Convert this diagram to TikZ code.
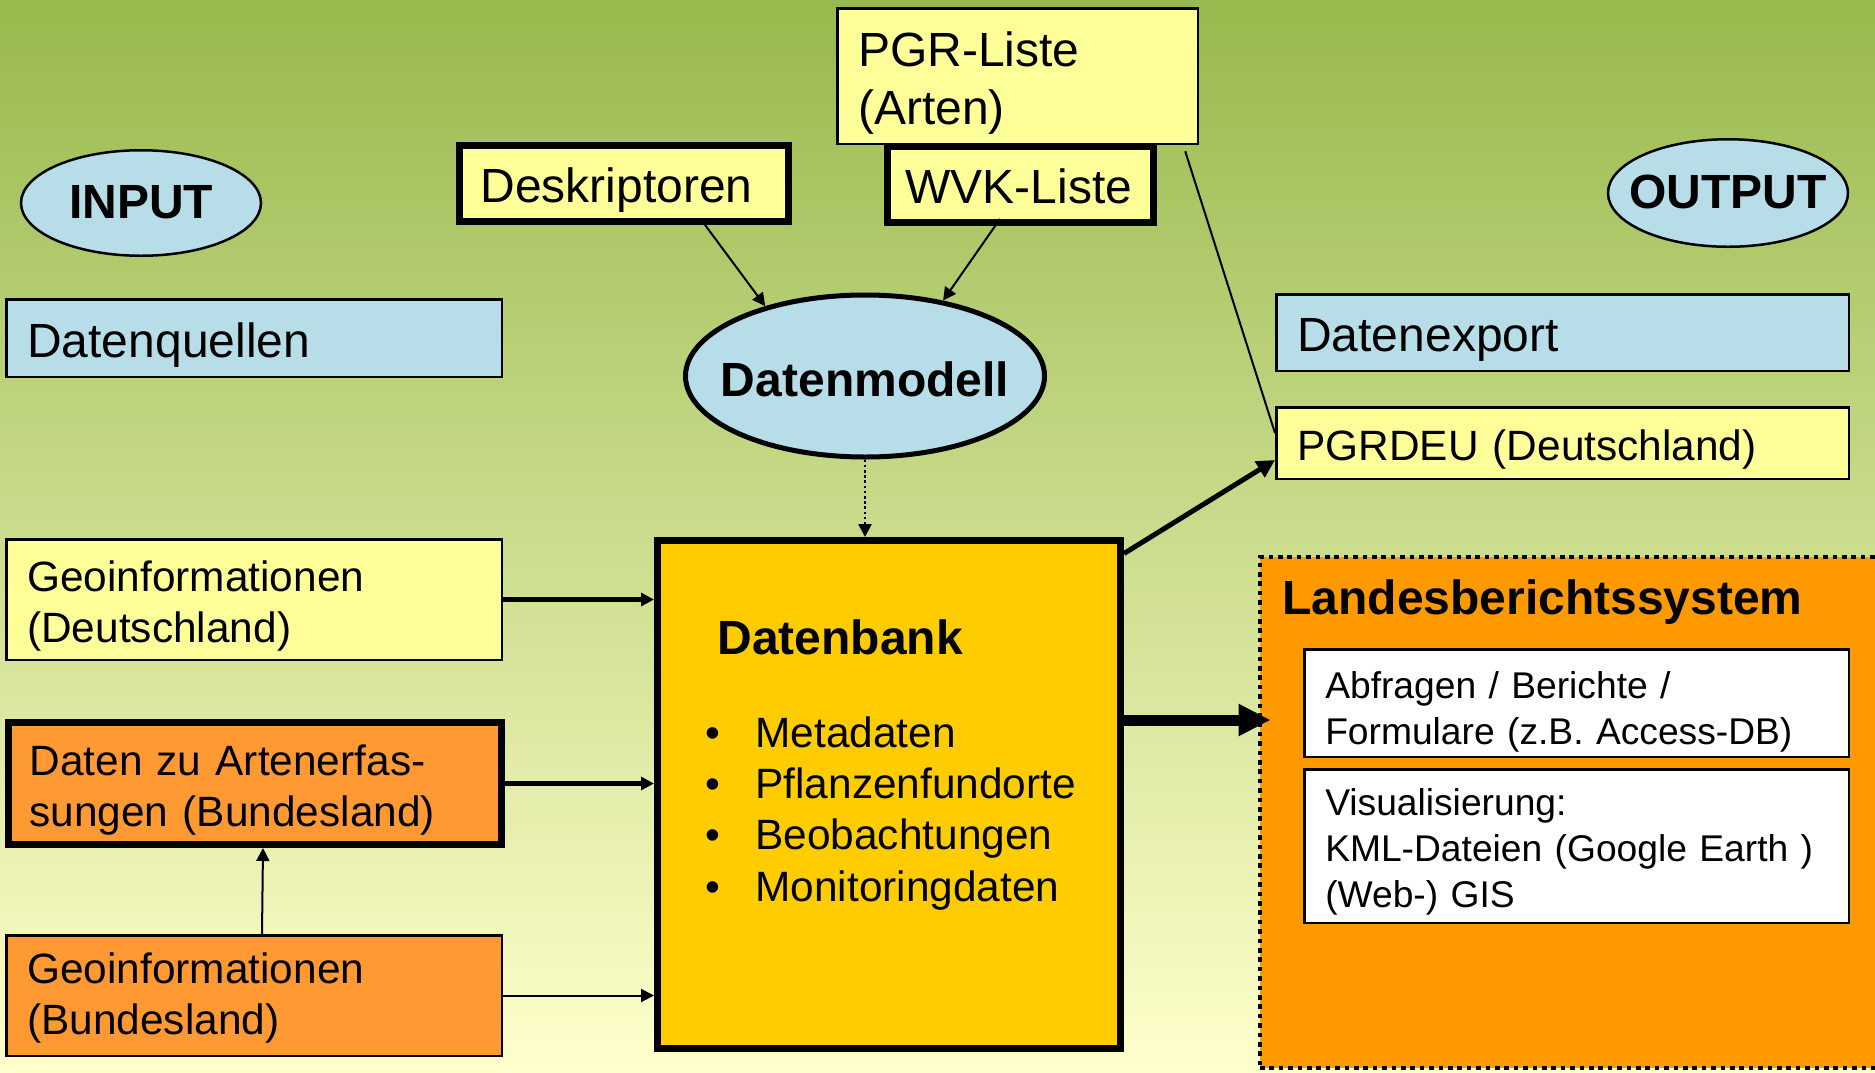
\documentclass[tikz,border=0pt]{standalone}
\usepackage{fontspec}
\setmainfont{Liberation Sans}
\usetikzlibrary{arrows.meta,shapes.geometric}

\definecolor{bgoben}{RGB}{151,185,77}
\definecolor{bgunten}{RGB}{255,255,204}
\definecolor{hellblau}{RGB}{183,222,232}
\definecolor{hellgelb}{RGB}{255,255,153}
\definecolor{orangekasten}{RGB}{255,153,51}
\definecolor{dbgelb}{RGB}{255,204,0}
\definecolor{lbsorange}{RGB}{255,153,0}

\newcommand{\fgross}{\fontsize{24}{28.7}\selectfont}
\newcommand{\fmittel}{\fontsize{21.2}{25.7}\selectfont}
\newcommand{\fklein}{\fontsize{18.6}{23}\selectfont}

\begin{document}
\begin{tikzpicture}[x=0.5pt, y=-0.5pt,
    kasten/.style={draw, rectangle, line width=1.25pt, align=left, inner xsep=10.5pt, inner ysep=0pt, font=\fmittel, text height=19.4pt, text depth=2pt},
    gross/.style={font=\fgross, text height=21.4pt},
    klein/.style={font=\fklein, text height=17.3pt},
    dick/.style={line width=3.5pt},
    oval/.style={draw, ellipse, line width=1.25pt, fill=hellblau, inner sep=0pt, font=\fgross\bfseries, text height=17.2pt, text depth=2pt},
    pfeil/.style={-{Triangle[length=6.5pt,width=6.5pt]}, line width=1pt}]

    % 1. Hintergrund
    \useasboundingbox (0,0) rectangle (1875,1072);
    \shade[top color=bgoben, bottom color=bgunten] (0,0) rectangle (1875,1072);

    % 2. INPUT / OUTPUT
    \node[oval, minimum width=120pt, minimum height=52.75pt] (input) at (141,203) {\makebox[0pt]{INPUT}};
    \node[oval, minimum width=120pt, minimum height=53.75pt] (output) at (1728,193) {\makebox[0pt]{OUTPUT}};
    \node[kasten, gross, fill=hellblau, text width=226.75pt, minimum height=38.75pt] (quellen) at (254,338) {Datenquellen};
    \node[kasten, gross, fill=hellblau, text width=265.25pt, minimum height=38.25pt] (export) at (1562.5,332.5) {Datenexport};
    \node[kasten, fill=hellgelb, text width=265.25pt, minimum height=35.75pt] (pgrdeu) at (1562.5,443) {PGRDEU (Deutschland)};

    % 3. Listen oben
    \node[kasten, gross, fill=hellgelb, text width=159.25pt, minimum height=67.75pt, text depth=30.7pt] (pgr) at (1017.5,76) {PGR-Liste\\(Arten)};
    \node[kasten, gross, dick, fill=hellgelb, text width=143.5pt, minimum height=38pt] (deskr) at (624,183.5) {Deskriptoren};
    \node[kasten, gross, dick, fill=hellgelb, inner xsep=9pt, text width=115pt, minimum height=38pt] (wvk) at (1020.5,184) {WVK-Liste};
    \node[oval, line width=2.5pt, minimum width=179.5pt, minimum height=81pt, text height=22pt] (modell) at (865,376) {\makebox[0pt]{Datenmodell}};

    % 4. Eingangsdaten
    \node[kasten, fill=hellgelb, text width=226.75pt, minimum height=60.25pt, text depth=27.7pt] (geod) at (254,599.5) {Geoinformationen\\(Deutschland)};
    \node[kasten, dick, fill=orangekasten, text width=225.5pt, minimum height=61pt, text depth=27.7pt] (arten) at (255,783.5) {Daten zu Artenerfas-\\sungen (Bundesland)};
    \node[kasten, fill=orangekasten, text width=226.75pt, minimum height=60.25pt, text height=15.2pt, text depth=27.7pt] (geob) at (254,995.5) {Geoinformationen\\(Bundesland)};

    % 5. Datenbank
    \node[kasten, dick, fill=dbgelb, minimum width=231.5pt, minimum height=254pt] (bank) at (889,794.5) {};
    \node[font=\fgross\bfseries, anchor=base west, inner sep=0pt] (banktitel) at (717,654) {Datenbank};
    \foreach \t [count=\i from 0] in {Metadaten,Pflanzenfundorte,Beobachtungen,Monitoringdaten}
        \node[font=\fmittel, anchor=base west, inner sep=0pt] (punkt\i) at (704.6,{747+51.33*\i}) {\makebox[25.2pt][l]{\textbullet}\t};

    % 6. Landesberichtssystem
    \node[draw, fill=lbsorange, line width=2.3pt, dash pattern=on 2.3pt off 2.4pt, inner sep=0pt, minimum width=315pt, minimum height=255.5pt] (lbs) at (1575,812.5) {};
    \node[font=\fgross\bfseries, anchor=base west, inner sep=0pt] (lbstitel) at (1282,614) {Landesberichtssystem};
    \node[kasten, klein, fill=white, text width=251.25pt, minimum height=53.75pt, text height=20.3pt, text depth=25pt] (abfr) at (1576.5,703) {Abfragen / Berichte /\\Formulare (z.B. Access-DB)};
    \node[kasten, klein, fill=white, text width=251.25pt, minimum height=76.75pt, text depth=48pt] (visu) at (1576.5,846) {Visualisierung:\\KML-Dateien (Google Earth )\\(Web-) GIS};

    % 7. Verbindungen
    \draw[pfeil] ([xshift=38.5pt,yshift=2.75pt]deskr.south) -- (modell.145);
    \draw[pfeil] ([xshift=-10.25pt,yshift=3.25pt]wvk.south) -- (modell.44);
    \draw[line width=1pt] ([xshift=-6.9pt,yshift=-3.1pt]pgr.south east) -- ([yshift=5pt]pgrdeu.west);
    \draw[pfeil, line width=1.3pt, dash pattern=on 1.3pt off 1.3pt] (modell.south) -- (modell.south |- bank.north);
    \draw[pfeil, line width=2.5pt, -{Triangle[length=9pt,width=9pt]}] ([yshift=-8.25pt]bank.north east) -- ([yshift=-8.5pt]pgrdeu.west);
    \coordinate (lbsein) at ([yshift=37.25pt]bank.east);
    \draw[line width=5.5pt, -{Triangle[length=16pt,width=15pt]}, shorten >=-6.5pt] (lbsein) -- (lbsein -| lbs.west);
    \draw[pfeil, line width=2.25pt] (geod.east) -- (geod.east -| bank.west);
    \draw[pfeil, line width=2.25pt] (arten.east) -- (arten.east -| bank.west);
    \draw[pfeil] (geob.east) -- (geob.east -| bank.west);
    \draw[pfeil] ([xshift=4pt]geob.north) -- ([xshift=4pt]arten.south);

\end{tikzpicture}
\end{document}
